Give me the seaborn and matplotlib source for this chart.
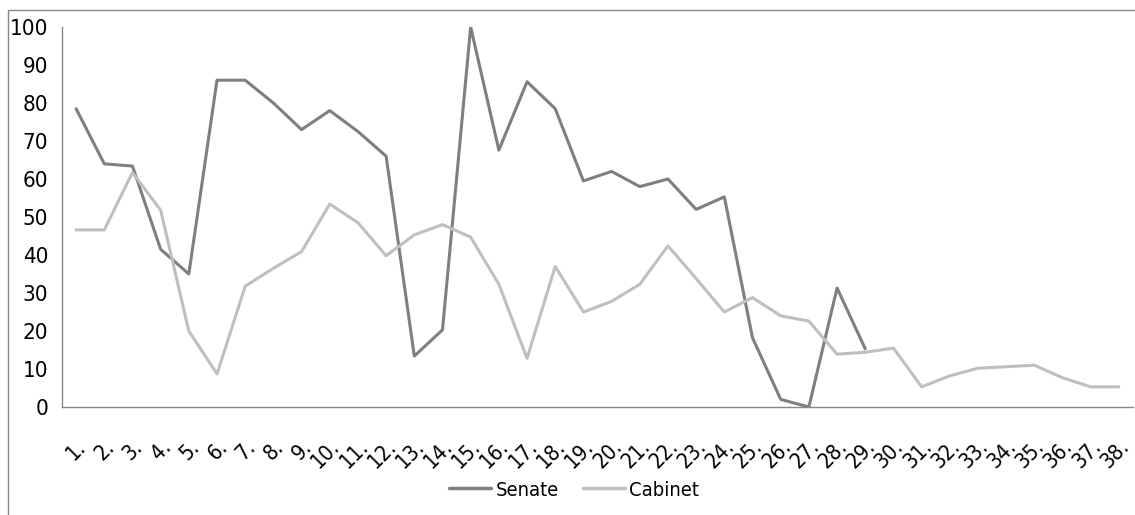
import numpy as np
import pandas as pd
import matplotlib
matplotlib.use('Agg')
import matplotlib.pyplot as plt
from matplotlib import font_manager
from matplotlib.patches import Rectangle
import seaborn as sns

# values
labels = [f'{i}.' for i in range(1, 39)]
senate = [78.5, 64, 63.4, 41.5, 35, 86, 86, 80, 73, 78, 72.5, 66, 13.4, 20.3, 100,
          67.6, 85.6, 78.5, 59.5, 62, 58, 60, 52, 55.3, 18.2, 2, 0, 31.3, 15.3] + [np.nan] * 9
cabinet = [46.6, 46.6, 61.7, 51.8, 20, 8.7, 31.8, 36.5, 40.9, 53.4, 48.5, 39.8, 45.3,
           48, 44.7, 32.3, 12.8, 37, 25, 27.8, 32.3, 42.4, 33.8, 25, 28.8, 24, 22.6,
           13.9, 14.4, 15.5, 5.3, 8.2, 10.2, 10.6, 11, 7.7, 5.3, 5.3]

df = pd.DataFrame({
    'pos': list(range(38)) * 2,
    'value': senate + cabinet,
    'series': ['Senate'] * 38 + ['Cabinet'] * 38,
})

# the original uses a narrow typeface; take a condensed one if there is any
narrow = None
for f in font_manager.fontManager.ttflist:
    if f.stretch in ('condensed', 'semi-condensed', 'extra-condensed') or \
            'Narrow' in f.name or 'Condensed' in f.name:
        if f.style == 'normal' and f.weight in (400, 'normal', 'regular'):
            narrow = f
            break

sns.set_style('white')
if narrow is not None:
    font_kw = {'fname': narrow.fname}
else:
    font_kw = {'family': 'DejaVu Sans', 'stretch': 'condensed'}
plt.rcParams['font.family'] = ['DejaVu Sans']
plt.rcParams['text.color'] = 'black'


def fp(size):
    return font_manager.FontProperties(size=size, **font_kw)


fig = plt.figure(figsize=(11.35, 5.15), dpi=100)
ax = fig.add_axes([62 / 1135, 1 - 407 / 515, 1071 / 1135, 380 / 515])

sns.lineplot(data=df, x='pos', y='value', hue='series',
             palette={'Senate': '#7f7f7f', 'Cabinet': '#bfbfbf'},
             linewidth=2.2, sort=False, legend=False, ax=ax)

ax.set_xlim(-0.5, 37.5)
ax.set_ylim(0, 100)
ax.set_xlabel('')
ax.set_ylabel('')

ax.set_xticks(range(38))
ax.set_xticklabels(labels, rotation=45, ha='right', va='top', rotation_mode='anchor',
                   fontproperties=fp(15.5), color='black')
ax.set_xticks(np.arange(-0.5, 38, 1), minor=True)
ax.tick_params(axis='x', which='major', length=0, pad=21)
ax.tick_params(axis='x', which='minor', length=7, width=1, color='#888888', direction='out')
ax.set_yticks(range(0, 101, 10))
ax.set_yticklabels([str(v) for v in range(0, 101, 10)], fontproperties=fp(16), color='black')
ax.tick_params(axis='y', length=6, width=1, color='#888888', direction='out', pad=4)

for side in ['top', 'right']:
    ax.spines[side].set_visible(False)
for side in ['left', 'bottom']:
    ax.spines[side].set_color('#888888')
    ax.spines[side].set_linewidth(1)

# legend under the plot
handles = [plt.Line2D([], [], color='#7f7f7f', lw=2.5), plt.Line2D([], [], color='#bfbfbf', lw=2.5)]
leg = fig.legend(handles, ['Senate', 'Cabinet'], loc='center', bbox_to_anchor=(574 / 1135, 1 - 490 / 515),
                 ncol=2, frameon=False, prop=fp(14.5), handlelength=2.1, handletextpad=0.2,
                 columnspacing=1.2)
for t in leg.get_texts():
    t.set_color('black')

# outer frame of the chart area
fig.patches.append(Rectangle((8 / 1135, -0.1), 1.2, 1 - 10 / 515 + 0.1, transform=fig.transFigure,
                             fill=False, edgecolor='#888888', linewidth=1))

fig.savefig('out.png', dpi=100)
